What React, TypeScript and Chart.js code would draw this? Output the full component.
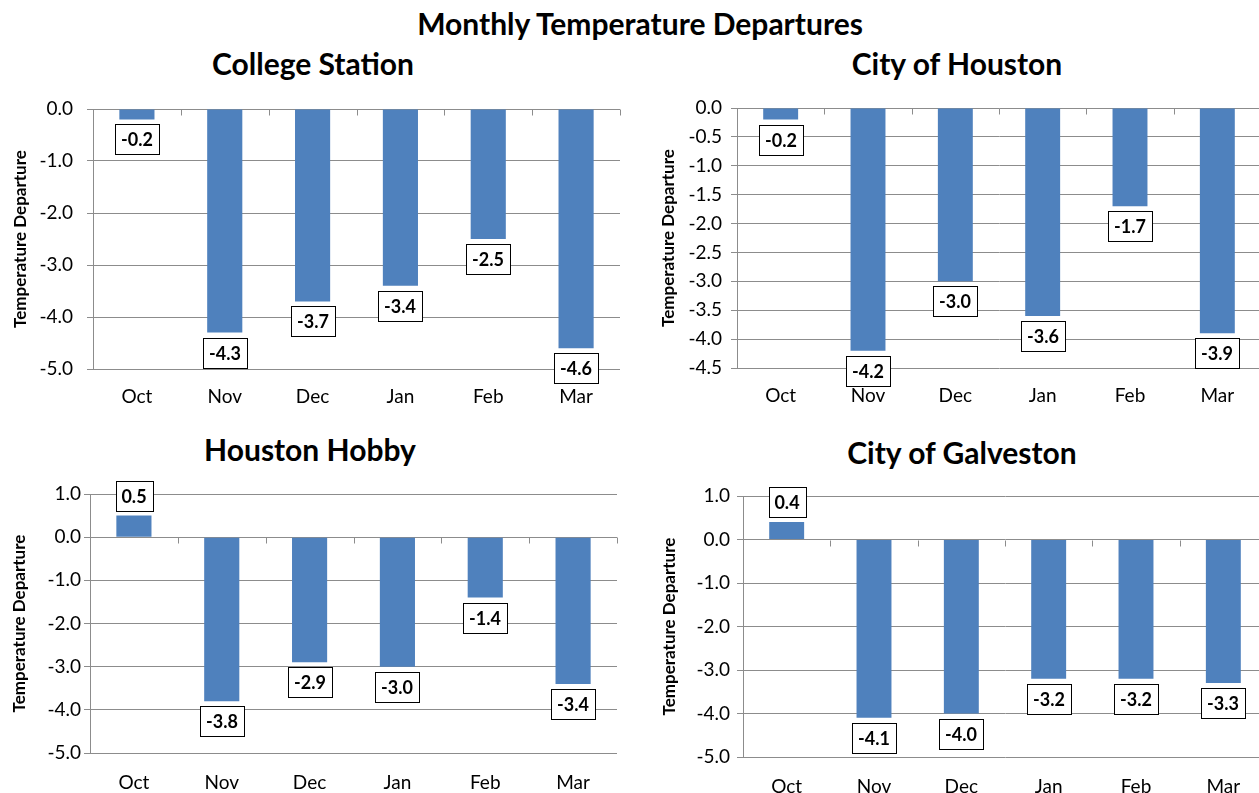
import React, { useEffect, useRef } from "react";
import { Chart, registerables } from "chart.js";

Chart.register(...registerables);

const MONTHS = ["Oct", "Nov", "Dec", "Jan", "Feb", "Mar"];
const COLLEGE_STATION = [-0.2, -4.3, -3.7, -3.4, -2.5, -4.6];
const CITY_OF_HOUSTON = [-0.2, -4.2, -3.0, -3.6, -1.7, -3.9];
const HOUSTON_HOBBY = [0.5, -3.8, -2.9, -3.0, -1.4, -3.4];
const CITY_OF_GALVESTON = [0.4, -4.1, -4.0, -3.2, -3.2, -3.3];

const MAIN_TITLE = "Monthly Temperature Departures";
const Y_TITLE = "Temperature Departure";

const FONT = "Lato, 'Open Sans', sans-serif";
const BAR_COLOR = "#4f81bd";
const GRID_COLOR = "#8c8c8c";

type Panel = {
  title: string;
  values: number[];
  yMin: number;
  yMax: number;
  yStep: number;
  canvas: { left: number; top: number; width: number; height: number };
  plot: { left: number; top: number; right: number; bottom: number };
  titleCenter: { x: number; y: number };
  yTickPad: number;
  yTitlePad: number;
  xTickPad: number;
};

const PANELS: Panel[] = [
  {
    title: "College Station",
    values: COLLEGE_STATION,
    yMin: -5,
    yMax: 0,
    yStep: 1,
    canvas: { left: 0, top: 78, width: 630, height: 350 },
    plot: { left: 93, top: 109, right: 620, bottom: 369 },
    titleCenter: { x: 313, y: 64 },
    yTickPad: 14,
    yTitlePad: 10,
    xTickPad: 8,
  },
  {
    title: "City of Houston",
    values: CITY_OF_HOUSTON,
    yMin: -4.5,
    yMax: 0,
    yStep: 0.5,
    canvas: { left: 650, top: 78, width: 620, height: 350 },
    plot: { left: 737, top: 108, right: 1261, bottom: 368 },
    titleCenter: { x: 957, y: 64 },
    yTickPad: 9,
    yTitlePad: 8,
    xTickPad: 8,
  },
  {
    title: "Houston Hobby",
    values: HOUSTON_HOBBY,
    yMin: -5,
    yMax: 1,
    yStep: 1,
    canvas: { left: 0, top: 466, width: 630, height: 327 },
    plot: { left: 90, top: 494, right: 617, bottom: 753 },
    titleCenter: { x: 310, y: 450 },
    yTickPad: 3,
    yTitlePad: 9,
    xTickPad: 10,
  },
  {
    title: "City of Galveston",
    values: CITY_OF_GALVESTON,
    yMin: -5,
    yMax: 1,
    yStep: 1,
    canvas: { left: 650, top: 466, width: 620, height: 327 },
    plot: { left: 743, top: 496, right: 1267, bottom: 757 },
    titleCenter: { x: 962, y: 453 },
    yTickPad: 7,
    yTitlePad: 9,
    xTickPad: 10,
  },
];

const zeroTicksPlugin = {
  id: "zeroTicks",
  beforeDatasetsDraw(chart: any) {
    const x = chart.scales.x;
    const y = chart.scales.y;
    const ctx = chart.ctx;
    const y0 = Math.round(y.getPixelForValue(0)) + 0.5;
    const n = chart.data.labels.length;
    ctx.save();
    ctx.strokeStyle = GRID_COLOR;
    ctx.lineWidth = 1;
    ctx.beginPath();
    for (let i = 0; i <= n; i++) {
      let px: number;
      if (i === 0) px = x.left;
      else if (i === n) px = x.right;
      else px = (x.getPixelForValue(i - 1) + x.getPixelForValue(i)) / 2;
      px = Math.round(px) + 0.5;
      ctx.moveTo(px, y0);
      ctx.lineTo(px, y0 + 6);
    }
    ctx.stroke();
    ctx.restore();
  },
};

const valueBoxPlugin = {
  id: "valueBoxes",
  afterDatasetsDraw(chart: any) {
    const ctx = chart.ctx;
    const meta = chart.getDatasetMeta(0);
    const data = chart.data.datasets[0].data as number[];
    ctx.save();
    ctx.font = `bold 18px ${FONT}`;
    ctx.textAlign = "center";
    ctx.textBaseline = "middle";
    meta.data.forEach((bar: any, i: number) => {
      const v = data[i];
      const text = v.toFixed(1);
      const tw = ctx.measureText(text).width;
      const w = Math.round(tw + 12);
      const h = 30;
      const cx = Math.round(bar.x);
      let top: number;
      if (v < 0) top = Math.round(bar.y) + 5;
      else top = Math.round(bar.y) - 5 - h;
      const left = Math.round(cx - w / 2);
      ctx.fillStyle = "#ffffff";
      ctx.fillRect(left, top, w, h);
      ctx.strokeStyle = "#000000";
      ctx.lineWidth = 1;
      ctx.strokeRect(left + 0.5, top + 0.5, w, h);
      ctx.fillStyle = "#000000";
      ctx.fillText(text, cx, top + h / 2 + 1);
    });
    ctx.restore();
  },
};

function PanelChart({ panel }: { panel: Panel }) {
  const ref = useRef<HTMLCanvasElement | null>(null);
  useEffect(() => {
    if (!ref.current) return;
    const c = panel.canvas;
    const p = panel.plot;
    const chart = new Chart(ref.current, {
      type: "bar",
      data: {
        labels: MONTHS,
        datasets: [
          {
            data: panel.values,
            backgroundColor: BAR_COLOR,
            borderWidth: 0,
            categoryPercentage: 1,
            barPercentage: 0.4,
          },
        ],
      },
      options: {
        responsive: false,
        animation: false,
        devicePixelRatio: 1,
        layout: {
          padding: {
            left: 0,
            top: p.top - c.top,
            right: c.left + c.width - p.right,
            bottom: 0,
          },
        },
        plugins: {
          legend: { display: false },
          tooltip: { enabled: false },
          title: { display: false },
        },
        scales: {
          x: {
            type: "category",
            offset: true,
            grid: { display: false },
            border: { display: false },
            ticks: {
              color: "#000",
              font: { family: FONT, size: 19 },
              padding: panel.xTickPad,
              maxRotation: 0,
              autoSkip: false,
            },
            afterFit: (scale: any) => {
              scale.height = c.top + c.height - p.bottom;
            },
          },
          y: {
            type: "linear",
            min: panel.yMin,
            max: panel.yMax,
            grid: {
              color: GRID_COLOR,
              lineWidth: 1,
              drawTicks: true,
              tickLength: 6,
            },
            border: { display: true, color: GRID_COLOR, width: 1 },
            ticks: {
              stepSize: panel.yStep,
              color: "#000",
              font: { family: FONT, size: 19 },
              padding: panel.yTickPad,
              callback: (v: any) => Number(v).toFixed(1),
            },
            title: {
              display: true,
              text: Y_TITLE,
              color: "#000",
              font: { family: FONT, size: 17, weight: "bold" },
              padding: { top: panel.yTitlePad, bottom: 0 },
            },
            afterFit: (scale: any) => {
              scale.width = p.left - c.left;
            },
          },
        },
      },
      plugins: [zeroTicksPlugin, valueBoxPlugin],
    } as any);
    return () => chart.destroy();
  }, [panel]);

  return (
    <>
      <div
        style={{
          position: "absolute",
          left: panel.titleCenter.x - 300,
          width: 600,
          top: panel.titleCenter.y - 16,
          textAlign: "center",
          font: `bold 30px ${FONT}`,
          lineHeight: "30px",
          whiteSpace: "nowrap",
          color: "#000",
        }}
      >
        {panel.title}
      </div>
      <canvas
        ref={ref}
        width={panel.canvas.width}
        height={panel.canvas.height}
        style={{
          position: "absolute",
          left: panel.canvas.left,
          top: panel.canvas.top,
          width: panel.canvas.width,
          height: panel.canvas.height,
          display: "block",
        }}
      />
    </>
  );
}

export default function App() {
  return (
    <div
      style={{
        position: "absolute",
        left: 0,
        top: 0,
        width: 1259,
        height: 793,
        overflow: "hidden",
        background: "#fff",
      }}
    >
      <div
        style={{
          position: "absolute",
          left: 340,
          width: 600,
          top: 24 - 16,
          textAlign: "center",
          font: `bold 30px ${FONT}`,
          lineHeight: "30px",
          whiteSpace: "nowrap",
          color: "#000",
        }}
      >
        {MAIN_TITLE}
      </div>
      {PANELS.map((panel) => (
        <PanelChart key={panel.title} panel={panel} />
      ))}
    </div>
  );
}
